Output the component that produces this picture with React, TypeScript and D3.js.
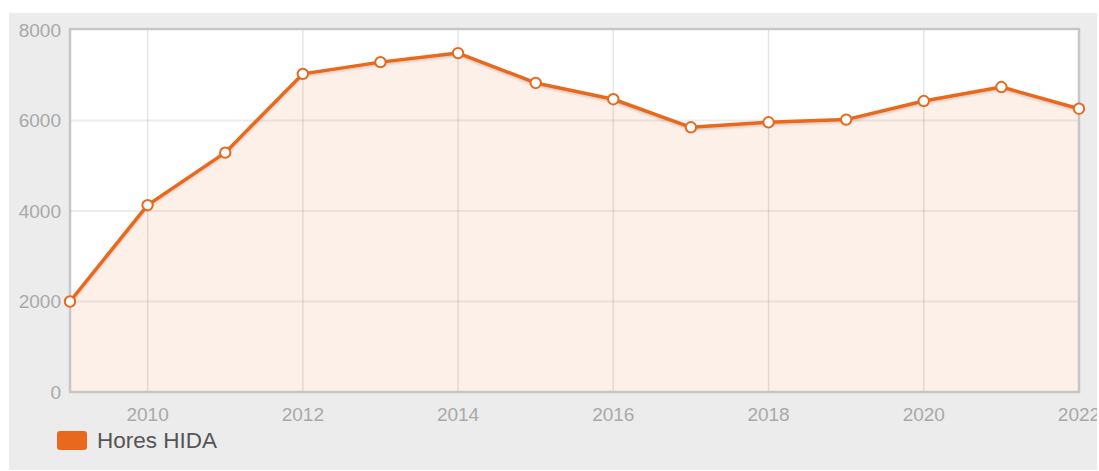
import React from 'react';
import * as d3 from 'd3';

// chart values
const years = [2009, 2010, 2011, 2012, 2013, 2014, 2015, 2016, 2017, 2018, 2019, 2020, 2021, 2022];
const hours = [2000, 4130, 5290, 7030, 7290, 7490, 6830, 6470, 5850, 5960, 6020, 6430, 6740, 6260];
const yTicks = [0, 2000, 4000, 6000, 8000];
const xTicks = [2010, 2012, 2014, 2016, 2018, 2020, 2022];
const seriesName = 'Hores HIDA';

const W = 1099;
const H = 471;
const ORANGE = '#e8691e';
const FONT = '"Liberation Sans", Arial, sans-serif';

const App: React.FC = () => {
  const bg = { x0: 9, y0: 13, x1: 1097, y1: 470 };
  const plot = { left: 70, top: 30, right: 1079, bottom: 392 };

  const x = d3.scaleLinear().domain([2009, 2022]).range([plot.left, plot.right]);
  const y = d3.scaleLinear().domain([0, 8000]).range([plot.bottom, plot.top]);

  const points = years.map((yr, i) => ({ yr, v: hours[i] }));

  const line = d3.line<{ yr: number; v: number }>()
    .x(d => x(d.yr))
    .y(d => y(d.v));

  const area = d3.area<{ yr: number; v: number }>()
    .x(d => x(d.yr))
    .y0(y(0))
    .y1(d => y(d.v));

  return (
    <div style={{ position: 'absolute', left: 0, top: 0 }}>
      <svg width={W} height={H} style={{ display: 'block' }}>
        <defs>
          <clipPath id="bgclip">
            <rect x={bg.x0} y={bg.y0} width={bg.x1 - bg.x0} height={bg.y1 - bg.y0} />
          </clipPath>
          <filter id="shadow" x="-5%" y="-5%" width="110%" height="120%">
            <feDropShadow dx="0" dy="1.5" stdDeviation="1" floodColor="#000" floodOpacity="0.18" />
          </filter>
        </defs>
        <rect width={W} height={H} fill="#fff" />
        <rect x={bg.x0} y={bg.y0} width={bg.x1 - bg.x0} height={bg.y1 - bg.y0} fill="#ececec" />

        {/* plot background */}
        <rect x={plot.left} y={plot.top} width={plot.right - plot.left} height={plot.bottom - plot.top} fill="#fff" />

        {/* area */}
        <path d={area(points) || ''} fill={ORANGE} fillOpacity={0.1} />

        {/* grid */}
        {yTicks.filter(t => t > 0 && t < 8000).map(t => (
          <line key={'gy' + t} x1={plot.left} x2={plot.right} y1={y(t)} y2={y(t)} stroke="#000" strokeOpacity={0.07} strokeWidth={2} />
        ))}
        {xTicks.filter(t => t < 2022).map(t => (
          <line key={'gx' + t} x1={x(t)} x2={x(t)} y1={plot.top} y2={plot.bottom} stroke="#000" strokeOpacity={0.1} strokeWidth={1.5} />
        ))}

        {/* frame */}
        <rect x={plot.left} y={plot.top - 1} width={plot.right - plot.left} height={plot.bottom - plot.top + 1}
          fill="none" stroke="#c6c6c6" strokeWidth={2.5} />

        {/* series */}
        <path d={line(points) || ''} fill="none" stroke={ORANGE} strokeWidth={3.5} strokeLinejoin="round" filter="url(#shadow)" />
        {points.map(p => (
          <circle key={p.yr} cx={x(p.yr)} cy={y(p.v)} r={5.2} fill="#fff" stroke={ORANGE} strokeWidth={2} />
        ))}

        {/* axes labels */}
        <g clipPath="url(#bgclip)" fontFamily={FONT} fontSize={19} fill="#a9a9a9">
          {yTicks.map(t => (
            <text key={'yl' + t} x={61} y={y(t)} dy="0.35em" textAnchor="end">{t}</text>
          ))}
          {xTicks.map(t => (
            <text key={'xl' + t} x={x(t)} y={421} textAnchor="middle">{t}</text>
          ))}
        </g>

        {/* legend */}
        <rect x={57} y={431} width={30} height={19} rx={3} fill={ORANGE} />
        <text x={97} y={448} fontFamily={FONT} fontSize={22.5} fill="#555">{seriesName}</text>
      </svg>
    </div>
  );
};

export default App;
